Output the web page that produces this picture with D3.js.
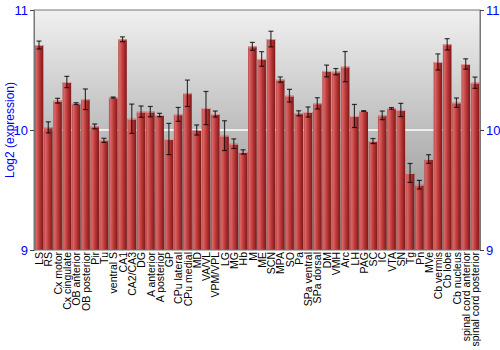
<!DOCTYPE html>
<html>
<head>
<meta charset="utf-8">
<script src="https://cdn.jsdelivr.net/npm/d3@7"></script>
<style>
    body { margin: 0; background: #fff; }
    text { font-family: "Liberation Sans", Arial, sans-serif; }
</style>
</head>
<body>
<div id="chart"></div>
<script>
const regions = ['LS', 'RS', 'Cx motor', 'Cx cingulate', 'OB anterior', 'OB posterior', 'Pir', 'Tu',
    'ventral S', 'CA1', 'CA2/CA3', 'DG', 'A anterior', 'A posterior', 'GP', 'CPu lateral', 'CPu medial',
    'MD', 'VA/VL', 'VPM/VPL', 'LG', 'MG', 'Hb', 'M', 'ME', 'SCN', 'MPA', 'SO', 'Pa', 'SPa ventral',
    'SPa dorsal', 'DM', 'VMH', 'Arc', 'LH', 'PAG', 'SC', 'IC', 'VTA', 'SN', 'Tg', 'Pn', 'MVe',
    'Cb vermis', 'Cb lobe', 'Cb nucleus', 'spinal cord anterior', 'spinal cord posterior'];

const expression = [10.708, 10.022, 10.244, 10.40, 10.22, 10.256, 10.03, 9.914, 10.27, 10.756,
    10.094, 10.153, 10.153, 10.125, 9.925, 10.13, 10.306, 10.0, 10.183, 10.133, 9.953, 9.886, 9.817,
    10.697, 10.592, 10.758, 10.42, 10.286, 10.139, 10.15, 10.222, 10.492, 10.486, 10.528, 10.117,
    10.158, 9.908, 10.122, 10.18, 10.167, 9.642, 9.544, 9.758, 10.567, 10.714, 10.228, 10.55, 10.394];

const stdError = [0.033, 0.046, 0.02, 0.047, 0.008, 0.086, 0.02, 0.017, 0.005, 0.02, 0.122, 0.047,
    0.043, 0.014, 0.13, 0.058, 0.11, 0.042, 0.138, 0.025, 0.124, 0.04, 0.018, 0.033, 0.061, 0.065,
    0.022, 0.053, 0.021, 0.042, 0.047, 0.049, 0.026, 0.126, 0.096, 0.003, 0.021, 0.036, 0.007, 0.055,
    0.079, 0.036, 0.036, 0.067, 0.047, 0.039, 0.043, 0.047];

const yTicks = [9, 10, 11];

const width = 500, height = 350;
const plotLeft = 34, plotRight = 480, plotTop = 10, plotBottom = 250;

const data = regions.map((r, i) => ({ name: r, value: expression[i], err: stdError[i] }));

const svg = d3.select('#chart').append('svg')
    .attr('width', width)
    .attr('height', height);

const defs = svg.append('defs');

const bg = defs.append('linearGradient')
    .attr('id', 'bg')
    .attr('x1', 0).attr('y1', 0).attr('x2', 0).attr('y2', 1);
bg.append('stop').attr('offset', '0%').attr('stop-color', '#f0f0f0');
bg.append('stop').attr('offset', '100%').attr('stop-color', '#8a8a8a');

const barGrad = defs.append('linearGradient')
    .attr('id', 'bar')
    .attr('x1', 0).attr('y1', 0).attr('x2', 1).attr('y2', 0);
barGrad.append('stop').attr('offset', '0%').attr('stop-color', '#b94a4a');
barGrad.append('stop').attr('offset', '18%').attr('stop-color', '#d86666');
barGrad.append('stop').attr('offset', '50%').attr('stop-color', '#c23c3c');
barGrad.append('stop').attr('offset', '100%').attr('stop-color', '#7c1818');

const x = d3.scaleBand()
    .domain(regions)
    .range([plotLeft + 0.5, plotRight - 0.5])
    .paddingInner(0.07)
    .paddingOuter(0.02);

const y = d3.scaleLinear()
    .domain([9, 11])
    .range([plotBottom, plotTop]);

// plot background
svg.append('rect')
    .attr('x', plotLeft)
    .attr('y', plotTop)
    .attr('width', plotRight - plotLeft)
    .attr('height', plotBottom - plotTop)
    .attr('fill', 'url(#bg)');

svg.append('line')
    .attr('x1', plotLeft)
    .attr('x2', plotRight)
    .attr('y1', y(10))
    .attr('y2', y(10))
    .attr('stroke', '#fff')
    .attr('stroke-width', 1.5);

// bars
svg.append('g')
    .selectAll('rect')
    .data(data).enter()
    .append('rect')
    .attr('x', d => x(d.name))
    .attr('y', d => y(d.value))
    .attr('width', x.bandwidth())
    .attr('height', d => y(9) - y(d.value))
    .attr('fill', 'url(#bar)');

svg.append('g')
    .selectAll('line')
    .data(data).enter()
    .append('line')
    .attr('x1', d => x(d.name))
    .attr('x2', d => x(d.name) + x.bandwidth())
    .attr('y1', d => y(d.value) + 0.5)
    .attr('y2', d => y(d.value) + 0.5)
    .attr('stroke', '#e39a9a')
    .attr('stroke-width', 1);

// error bars
const errs = svg.append('g')
    .attr('stroke', '#000')
    .attr('stroke-opacity', 0.75)
    .attr('stroke-width', 1.2);

for (const d of data) {
    let cx = x(d.name) + x.bandwidth() / 2;
    let y1 = y(d.value + d.err), y2 = y(d.value - d.err);
    errs.append('line').attr('x1', cx).attr('x2', cx).attr('y1', y1).attr('y2', y2);
    errs.append('line').attr('x1', cx - 2.5).attr('x2', cx + 2.5).attr('y1', y1).attr('y2', y1);
    errs.append('line').attr('x1', cx - 2.5).attr('x2', cx + 2.5).attr('y1', y2).attr('y2', y2);
}

// frame
svg.append('rect')
    .attr('x', plotLeft)
    .attr('y', plotTop)
    .attr('width', plotRight - plotLeft)
    .attr('height', plotBottom - plotTop)
    .attr('fill', 'none')
    .attr('stroke', '#777')
    .attr('stroke-width', 1);

// axes
const yLeft = svg.append('g')
    .attr('transform', `translate(${plotLeft},0)`)
    .call(d3.axisLeft(y).tickValues(yTicks).tickFormat(d3.format('d')).tickSize(4).tickPadding(2));

const yRight = svg.append('g')
    .attr('transform', `translate(${plotRight},0)`)
    .call(d3.axisRight(y).tickValues(yTicks).tickFormat(d3.format('d')).tickSize(4).tickPadding(2));

for (const ax of [yLeft, yRight]) {
    ax.select('.domain').attr('stroke', '#777');
    ax.selectAll('.tick line').attr('stroke', '#444');
    ax.selectAll('.tick text')
        .attr('fill', '#00f')
        .style('font-size', '13px')
        .style('font-family', '"Liberation Sans", Arial, sans-serif');
}

svg.append('text')
    .attr('transform', `translate(14, ${(plotTop + plotBottom) / 2}) rotate(-90)`)
    .attr('text-anchor', 'middle')
    .attr('fill', '#00f')
    .style('font-size', '12px')
    .text('Log2 (expression)');

// category labels
svg.append('g')
    .selectAll('text')
    .data(regions).enter()
    .append('text')
    .attr('transform', d => `translate(${x(d) + x.bandwidth() / 2 + 0.5}, ${plotBottom + 2}) rotate(-90)`)
    .attr('text-anchor', 'end')
    .attr('dy', '0.35em')
    .attr('fill', '#000')
    .style('font-size', '10.5px')
    .text(d => d);
</script>
</body>
</html>
